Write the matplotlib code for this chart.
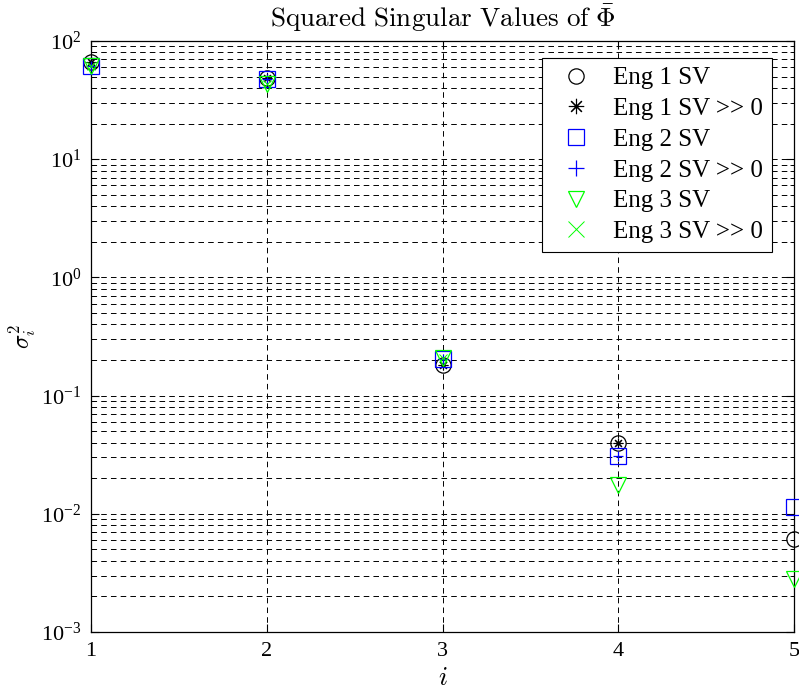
import matplotlib
matplotlib.use("Agg")
import matplotlib.pyplot as plt
from matplotlib.ticker import LogLocator, FixedLocator

# ---- data ----
idx = [1, 2, 3, 4, 5]
eng1_sv = [67, 49, 0.18, 0.040, 0.0061]
eng2_sv = [62, 48, 0.205, 0.031, 0.0115]
eng3_sv = [61, 43, 0.21, 0.0175, 0.0028]
eng1_big_idx = [1, 2, 3, 4]
eng1_big = [67, 49, 0.18, 0.040]
eng2_big_idx = [1, 2, 3, 4]
eng2_big = [62, 48, 0.205, 0.031]
eng3_big_idx = [1, 2, 3]
eng3_big = [61, 43, 0.21]
labels = ["Eng 1 SV", "Eng 1 SV >> 0", "Eng 2 SV", "Eng 2 SV >> 0",
          "Eng 3 SV", "Eng 3 SV >> 0"]
x_ticks = [1, 2, 3, 4, 5]

plt.rcParams['font.family'] = ['Liberation Serif', 'DejaVu Serif']
plt.rcParams['mathtext.fontset'] = 'custom'
plt.rcParams['mathtext.rm'] = 'Liberation Serif'
plt.rcParams['mathtext.it'] = 'Liberation Serif:italic'
plt.rcParams['lines.scale_dashes'] = False

fig = plt.figure(figsize=(7.99, 6.94), dpi=100)
ax = fig.add_axes([91/799, 1-632/694, (794-91)/799, (632-41)/694])

blue = (0, 0, 1)
green = (0, 1, 0)
asterisk = (8, 2, 0)
kw = dict(linestyle='none', clip_on=False, zorder=5)
ax.plot(idx, eng1_sv, marker='o', mfc='none', mec='k', ms=11, mew=0.9, label=labels[0], **kw)
ax.plot(eng1_big_idx, eng1_big, marker=asterisk, color='k', ms=7, mew=0.8, label=labels[1], **kw)
ax.plot(idx, eng2_sv, marker='s', mfc='none', mec=blue, ms=11, mew=0.9, label=labels[2], **kw)
ax.plot(eng2_big_idx, eng2_big, marker='+', color=blue, ms=7, mew=0.9, label=labels[3], **kw)
ax.plot(idx, eng3_sv, marker='v', mfc='none', mec=green, ms=11, mew=0.9, label=labels[4], **kw)
ax.plot(eng3_big_idx, eng3_big, marker='x', color=green, ms=6, mew=0.7, label=labels[5], **kw)

ax.set_yscale('log')
ax.set_ylim(1e-3, 1e2)
ax.set_xlim(1, 5)
ax.xaxis.set_major_locator(FixedLocator(x_ticks))
ax.yaxis.set_major_locator(LogLocator(base=10, numticks=10))
ax.yaxis.set_minor_locator(LogLocator(base=10, subs=range(2, 10), numticks=20))
ax.yaxis.set_minor_formatter(matplotlib.ticker.NullFormatter())

ax.grid(True, which='major', axis='both', color='k', linestyle=(0, (4, 3)), linewidth=0.7)
ax.grid(True, which='minor', axis='y', color='k', linestyle=(0, (4, 3)), linewidth=0.7)
ax.set_axisbelow(True)

ax.tick_params(which='both', direction='in', top=True, right=True, labelsize=16)
ax.tick_params(which='major', length=6, width=0.8)
ax.tick_params(which='minor', length=3, width=0.6)
ax.tick_params(axis='x', pad=7)
ax.tick_params(axis='y', pad=7)
for s in ax.spines.values():
    s.set_linewidth(0.9)

ax.set_title(r'$\mathrm{Squared\ Singular\ Values\ of\ }\bar{\Phi}$', fontsize=19.5,
             pad=10, math_fontfamily='cm')
ax.set_xlabel(r'$i$', fontsize=19, math_fontfamily='cm', labelpad=5)
ax.set_ylabel(r'$\sigma_i^2$', fontsize=17, math_fontfamily='cm')
ax.yaxis.set_label_coords(-0.076, 0.5)

leg = ax.legend(loc='upper right', bbox_to_anchor=(0.9687, 0.971), fontsize=18,
                frameon=True, fancybox=False, edgecolor='k', framealpha=1,
                labelspacing=0.33, handlelength=2.0, handletextpad=0.5,
                borderpad=0.35, borderaxespad=0)
leg.get_frame().set_linewidth(0.8)
for h in leg.legend_handles:
    h.set_markersize(11)

fig.savefig('out.png', dpi=100)
